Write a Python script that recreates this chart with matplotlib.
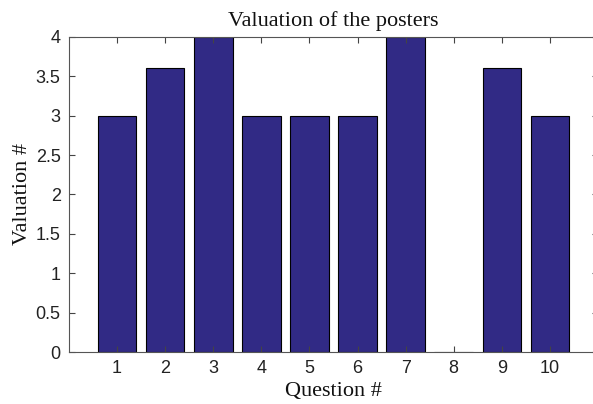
import matplotlib
matplotlib.use("Agg")
import matplotlib.pyplot as plt

questions = [1, 2, 3, 4, 5, 6, 7, 8, 9, 10]
valuations = [3, 3.6, 4, 3, 3, 3, 4, 0, 3.6, 3]
yticks = [0, 0.5, 1, 1.5, 2, 2.5, 3, 3.5, 4]
ytick_labels = ["0", "0.5", "1", "1.5", "2", "2.5", "3", "3.5", "4"]

plt.rcParams['font.family'] = ['Liberation Sans', 'DejaVu Sans']

fig = plt.figure(figsize=(5.93, 4.04), dpi=100)
ax = fig.add_axes([0.1164, 0.1287, 0.892, 0.780])

ax.bar(questions, valuations, width=0.8, color='#312a85', edgecolor='black', linewidth=0.8)

ax.set_xlim(0, 11)
ax.set_ylim(0, 4)
ax.set_xticks(questions)
ax.set_yticks(yticks)
ax.set_yticklabels(ytick_labels)
ax.tick_params(direction='in', top=True, right=True, length=4, width=0.8,
               color='#444444', labelsize=13, labelcolor='#222222', pad=6)
for s in ax.spines.values():
    s.set_color('#555555')
    s.set_linewidth(0.8)

serif = ['Liberation Serif', 'DejaVu Serif']
ax.set_title('Valuation of the posters', family=serif, fontsize=16, pad=8, color='#111111')
ax.set_xlabel('Question #', family=serif, fontsize=16, labelpad=3, color='#111111')
ax.set_ylabel('Valuation #', family=serif, fontsize=16, labelpad=3, color='#111111')

fig.savefig('out.png', dpi=100)
